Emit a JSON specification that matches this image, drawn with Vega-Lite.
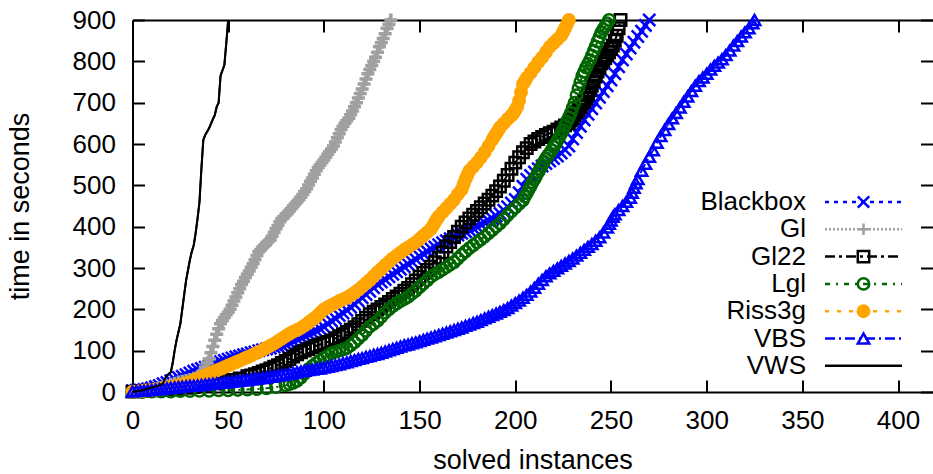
{
"$schema":"https://vega.github.io/schema/vega-lite/v6.json",
"width":800,"height":372,
"autosize":"none",
"padding":{"left":132.5,"top":20,"right":0,"bottom":82},
"background":"white",
"config":{
"view":{"stroke":null},
"font":"Liberation Sans",
"axis":{"grid":false,"domainColor":"black","domainWidth":2,"tickColor":"black","tickWidth":2,"tickSize":-12,"labelFont":"Liberation Sans","labelFontSize":26,"labelColor":"black","titleFont":"Liberation Sans","titleFontSize":27,"titleFontWeight":"normal","titleColor":"black","labelFlush":false,"labelOverlap":false}
},
"data":{"values":[
{"s":"Blackbox","x":0,"y":3},{"s":"Blackbox","x":2,"y":4},{"s":"Blackbox","x":4,"y":5},{"s":"Blackbox","x":6,"y":6},{"s":"Blackbox","x":8,"y":8},{"s":"Blackbox","x":10,"y":10},{"s":"Blackbox","x":12,"y":13},{"s":"Blackbox","x":14,"y":16},{"s":"Blackbox","x":16,"y":20},{"s":"Blackbox","x":18,"y":23},{"s":"Blackbox","x":20,"y":27},{"s":"Blackbox","x":22,"y":31},{"s":"Blackbox","x":24,"y":35},{"s":"Blackbox","x":26,"y":38},{"s":"Blackbox","x":28,"y":42},{"s":"Blackbox","x":30,"y":46},{"s":"Blackbox","x":32,"y":50},{"s":"Blackbox","x":34,"y":54},{"s":"Blackbox","x":36,"y":57},{"s":"Blackbox","x":38,"y":60},{"s":"Blackbox","x":40,"y":63},{"s":"Blackbox","x":42,"y":67},{"s":"Blackbox","x":44,"y":70},{"s":"Blackbox","x":46,"y":73},{"s":"Blackbox","x":48,"y":76},{"s":"Blackbox","x":50,"y":79},{"s":"Blackbox","x":52,"y":82},{"s":"Blackbox","x":54,"y":85},{"s":"Blackbox","x":56,"y":87},{"s":"Blackbox","x":58,"y":90},{"s":"Blackbox","x":60,"y":92},{"s":"Blackbox","x":62,"y":95},{"s":"Blackbox","x":64,"y":97},{"s":"Blackbox","x":66,"y":100},{"s":"Blackbox","x":68,"y":102},{"s":"Blackbox","x":70,"y":104},{"s":"Blackbox","x":72,"y":106},{"s":"Blackbox","x":74,"y":109},{"s":"Blackbox","x":76,"y":111},{"s":"Blackbox","x":78,"y":113},{"s":"Blackbox","x":80,"y":116},{"s":"Blackbox","x":82,"y":119},{"s":"Blackbox","x":84,"y":123},{"s":"Blackbox","x":86,"y":128},{"s":"Blackbox","x":88,"y":132},{"s":"Blackbox","x":90,"y":136},{"s":"Blackbox","x":92,"y":140},{"s":"Blackbox","x":94,"y":144},{"s":"Blackbox","x":96,"y":148},{"s":"Blackbox","x":98,"y":153},{"s":"Blackbox","x":100,"y":158},{"s":"Blackbox","x":102,"y":165},{"s":"Blackbox","x":104,"y":172},{"s":"Blackbox","x":106,"y":178},{"s":"Blackbox","x":108,"y":185},{"s":"Blackbox","x":110,"y":191},{"s":"Blackbox","x":112,"y":198},{"s":"Blackbox","x":114,"y":205},{"s":"Blackbox","x":116,"y":212},{"s":"Blackbox","x":118,"y":220},{"s":"Blackbox","x":120,"y":228},{"s":"Blackbox","x":122,"y":236},{"s":"Blackbox","x":124,"y":244},{"s":"Blackbox","x":126,"y":252},{"s":"Blackbox","x":128,"y":260},{"s":"Blackbox","x":130,"y":266},{"s":"Blackbox","x":132,"y":272},{"s":"Blackbox","x":134,"y":279},{"s":"Blackbox","x":136,"y":285},{"s":"Blackbox","x":138,"y":291},{"s":"Blackbox","x":140,"y":297},{"s":"Blackbox","x":142,"y":303},{"s":"Blackbox","x":144,"y":309},{"s":"Blackbox","x":146,"y":315},{"s":"Blackbox","x":148,"y":321},{"s":"Blackbox","x":150,"y":328},{"s":"Blackbox","x":152,"y":334},{"s":"Blackbox","x":154,"y":340},{"s":"Blackbox","x":156,"y":346},{"s":"Blackbox","x":158,"y":351},{"s":"Blackbox","x":160,"y":356},{"s":"Blackbox","x":162,"y":361},{"s":"Blackbox","x":164,"y":366},{"s":"Blackbox","x":166,"y":371},{"s":"Blackbox","x":168,"y":375},{"s":"Blackbox","x":170,"y":380},{"s":"Blackbox","x":172,"y":384},{"s":"Blackbox","x":174,"y":388},{"s":"Blackbox","x":176,"y":392},{"s":"Blackbox","x":178,"y":396},{"s":"Blackbox","x":180,"y":400},{"s":"Blackbox","x":182,"y":405},{"s":"Blackbox","x":184,"y":410},{"s":"Blackbox","x":186,"y":415},{"s":"Blackbox","x":188,"y":420},{"s":"Blackbox","x":190,"y":426},{"s":"Blackbox","x":192,"y":432},{"s":"Blackbox","x":194,"y":440},{"s":"Blackbox","x":196,"y":448},{"s":"Blackbox","x":198,"y":457},{"s":"Blackbox","x":200,"y":466},{"s":"Blackbox","x":202,"y":482},{"s":"Blackbox","x":204,"y":498},{"s":"Blackbox","x":206,"y":515},{"s":"Blackbox","x":208,"y":524},{"s":"Blackbox","x":210,"y":532},{"s":"Blackbox","x":212,"y":540},{"s":"Blackbox","x":214,"y":547},{"s":"Blackbox","x":216,"y":553},{"s":"Blackbox","x":218,"y":559},{"s":"Blackbox","x":220,"y":565},{"s":"Blackbox","x":222,"y":571},{"s":"Blackbox","x":224,"y":578},{"s":"Blackbox","x":226,"y":586},{"s":"Blackbox","x":228,"y":595},{"s":"Blackbox","x":230,"y":612},{"s":"Blackbox","x":232,"y":628},{"s":"Blackbox","x":234,"y":643},{"s":"Blackbox","x":236,"y":658},{"s":"Blackbox","x":238,"y":672},{"s":"Blackbox","x":240,"y":685},{"s":"Blackbox","x":242,"y":699},{"s":"Blackbox","x":244,"y":713},{"s":"Blackbox","x":246,"y":727},{"s":"Blackbox","x":248,"y":741},{"s":"Blackbox","x":250,"y":755},{"s":"Blackbox","x":252,"y":770},{"s":"Blackbox","x":254,"y":787},{"s":"Blackbox","x":256,"y":803},{"s":"Blackbox","x":258,"y":818},{"s":"Blackbox","x":260,"y":832},{"s":"Blackbox","x":262,"y":846},{"s":"Blackbox","x":264,"y":860},{"s":"Blackbox","x":266,"y":873},{"s":"Blackbox","x":268,"y":887},{"s":"Blackbox","x":270,"y":900},
{"s":"Gl","x":0,"y":2},{"s":"Gl","x":2,"y":2},{"s":"Gl","x":4,"y":3},{"s":"Gl","x":6,"y":4},{"s":"Gl","x":8,"y":5},{"s":"Gl","x":10,"y":6},{"s":"Gl","x":12,"y":8},{"s":"Gl","x":14,"y":10},{"s":"Gl","x":16,"y":12},{"s":"Gl","x":18,"y":15},{"s":"Gl","x":20,"y":18},{"s":"Gl","x":22,"y":21},{"s":"Gl","x":24,"y":24},{"s":"Gl","x":26,"y":26},{"s":"Gl","x":28,"y":28},{"s":"Gl","x":30,"y":30},{"s":"Gl","x":32,"y":33},{"s":"Gl","x":34,"y":37},{"s":"Gl","x":35,"y":40},{"s":"Gl","x":36,"y":45},{"s":"Gl","x":37,"y":50},{"s":"Gl","x":38,"y":60},{"s":"Gl","x":39,"y":70},{"s":"Gl","x":40,"y":80},{"s":"Gl","x":41,"y":95},{"s":"Gl","x":42,"y":110},{"s":"Gl","x":43,"y":125},{"s":"Gl","x":44,"y":140},{"s":"Gl","x":45,"y":153},{"s":"Gl","x":46,"y":165},{"s":"Gl","x":47,"y":173},{"s":"Gl","x":48,"y":180},{"s":"Gl","x":49,"y":187},{"s":"Gl","x":50,"y":193},{"s":"Gl","x":51,"y":200},{"s":"Gl","x":52,"y":210},{"s":"Gl","x":53,"y":220},{"s":"Gl","x":54,"y":230},{"s":"Gl","x":55,"y":240},{"s":"Gl","x":56,"y":250},{"s":"Gl","x":57,"y":260},{"s":"Gl","x":58,"y":268},{"s":"Gl","x":59,"y":277},{"s":"Gl","x":60,"y":285},{"s":"Gl","x":61,"y":293},{"s":"Gl","x":62,"y":302},{"s":"Gl","x":63,"y":310},{"s":"Gl","x":64,"y":320},{"s":"Gl","x":65,"y":330},{"s":"Gl","x":66,"y":340},{"s":"Gl","x":67,"y":345},{"s":"Gl","x":68,"y":350},{"s":"Gl","x":69,"y":355},{"s":"Gl","x":70,"y":360},{"s":"Gl","x":71,"y":364},{"s":"Gl","x":72,"y":368},{"s":"Gl","x":73,"y":377},{"s":"Gl","x":74,"y":386},{"s":"Gl","x":75,"y":395},{"s":"Gl","x":76,"y":403},{"s":"Gl","x":77,"y":412},{"s":"Gl","x":78,"y":420},{"s":"Gl","x":79,"y":424},{"s":"Gl","x":80,"y":428},{"s":"Gl","x":81,"y":432},{"s":"Gl","x":82,"y":438},{"s":"Gl","x":83,"y":444},{"s":"Gl","x":84,"y":450},{"s":"Gl","x":85,"y":455},{"s":"Gl","x":86,"y":460},{"s":"Gl","x":87,"y":465},{"s":"Gl","x":88,"y":471},{"s":"Gl","x":89,"y":478},{"s":"Gl","x":90,"y":485},{"s":"Gl","x":91,"y":492},{"s":"Gl","x":92,"y":501},{"s":"Gl","x":93,"y":510},{"s":"Gl","x":94,"y":518},{"s":"Gl","x":95,"y":527},{"s":"Gl","x":96,"y":535},{"s":"Gl","x":97,"y":543},{"s":"Gl","x":98,"y":549},{"s":"Gl","x":99,"y":555},{"s":"Gl","x":100,"y":561},{"s":"Gl","x":101,"y":568},{"s":"Gl","x":102,"y":575},{"s":"Gl","x":103,"y":582},{"s":"Gl","x":104,"y":588},{"s":"Gl","x":105,"y":595},{"s":"Gl","x":106,"y":605},{"s":"Gl","x":107,"y":615},{"s":"Gl","x":108,"y":625},{"s":"Gl","x":109,"y":635},{"s":"Gl","x":110,"y":643},{"s":"Gl","x":111,"y":650},{"s":"Gl","x":112,"y":656},{"s":"Gl","x":113,"y":662},{"s":"Gl","x":114,"y":671},{"s":"Gl","x":115,"y":680},{"s":"Gl","x":116,"y":690},{"s":"Gl","x":117,"y":700},{"s":"Gl","x":118,"y":711},{"s":"Gl","x":119,"y":722},{"s":"Gl","x":120,"y":733},{"s":"Gl","x":121,"y":745},{"s":"Gl","x":122,"y":757},{"s":"Gl","x":123,"y":770},{"s":"Gl","x":124,"y":780},{"s":"Gl","x":125,"y":790},{"s":"Gl","x":126,"y":800},{"s":"Gl","x":127,"y":810},{"s":"Gl","x":128,"y":822},{"s":"Gl","x":129,"y":835},{"s":"Gl","x":130,"y":845},{"s":"Gl","x":131,"y":855},{"s":"Gl","x":132,"y":867},{"s":"Gl","x":133,"y":880},{"s":"Gl","x":134,"y":890},{"s":"Gl","x":135,"y":900},
{"s":"Gl22","x":0,"y":1},{"s":"Gl22","x":4,"y":2},{"s":"Gl22","x":8,"y":3},{"s":"Gl22","x":12,"y":4},{"s":"Gl22","x":16,"y":5},{"s":"Gl22","x":20,"y":6},{"s":"Gl22","x":24,"y":8},{"s":"Gl22","x":28,"y":10},{"s":"Gl22","x":32,"y":12},{"s":"Gl22","x":36,"y":15},{"s":"Gl22","x":40,"y":18},{"s":"Gl22","x":44,"y":21},{"s":"Gl22","x":48,"y":25},{"s":"Gl22","x":52,"y":29},{"s":"Gl22","x":56,"y":33},{"s":"Gl22","x":60,"y":38},{"s":"Gl22","x":62,"y":40},{"s":"Gl22","x":64,"y":43},{"s":"Gl22","x":66,"y":46},{"s":"Gl22","x":68,"y":50},{"s":"Gl22","x":70,"y":53},{"s":"Gl22","x":72,"y":57},{"s":"Gl22","x":74,"y":61},{"s":"Gl22","x":76,"y":65},{"s":"Gl22","x":78,"y":70},{"s":"Gl22","x":80,"y":75},{"s":"Gl22","x":82,"y":80},{"s":"Gl22","x":84,"y":86},{"s":"Gl22","x":86,"y":91},{"s":"Gl22","x":88,"y":96},{"s":"Gl22","x":90,"y":100},{"s":"Gl22","x":92,"y":104},{"s":"Gl22","x":94,"y":108},{"s":"Gl22","x":96,"y":112},{"s":"Gl22","x":98,"y":115},{"s":"Gl22","x":100,"y":118},{"s":"Gl22","x":102,"y":121},{"s":"Gl22","x":104,"y":125},{"s":"Gl22","x":106,"y":130},{"s":"Gl22","x":108,"y":135},{"s":"Gl22","x":110,"y":140},{"s":"Gl22","x":112,"y":145},{"s":"Gl22","x":114,"y":151},{"s":"Gl22","x":116,"y":157},{"s":"Gl22","x":118,"y":164},{"s":"Gl22","x":120,"y":172},{"s":"Gl22","x":122,"y":180},{"s":"Gl22","x":124,"y":188},{"s":"Gl22","x":126,"y":194},{"s":"Gl22","x":128,"y":200},{"s":"Gl22","x":130,"y":206},{"s":"Gl22","x":132,"y":212},{"s":"Gl22","x":134,"y":218},{"s":"Gl22","x":136,"y":225},{"s":"Gl22","x":138,"y":231},{"s":"Gl22","x":140,"y":238},{"s":"Gl22","x":142,"y":245},{"s":"Gl22","x":144,"y":252},{"s":"Gl22","x":146,"y":261},{"s":"Gl22","x":148,"y":270},{"s":"Gl22","x":150,"y":279},{"s":"Gl22","x":152,"y":288},{"s":"Gl22","x":154,"y":295},{"s":"Gl22","x":156,"y":303},{"s":"Gl22","x":158,"y":314},{"s":"Gl22","x":160,"y":325},{"s":"Gl22","x":162,"y":338},{"s":"Gl22","x":164,"y":352},{"s":"Gl22","x":166,"y":363},{"s":"Gl22","x":168,"y":375},{"s":"Gl22","x":170,"y":388},{"s":"Gl22","x":172,"y":400},{"s":"Gl22","x":174,"y":410},{"s":"Gl22","x":176,"y":420},{"s":"Gl22","x":178,"y":429},{"s":"Gl22","x":180,"y":438},{"s":"Gl22","x":182,"y":447},{"s":"Gl22","x":184,"y":456},{"s":"Gl22","x":186,"y":465},{"s":"Gl22","x":188,"y":475},{"s":"Gl22","x":190,"y":486},{"s":"Gl22","x":192,"y":497},{"s":"Gl22","x":194,"y":511},{"s":"Gl22","x":196,"y":525},{"s":"Gl22","x":198,"y":540},{"s":"Gl22","x":200,"y":555},{"s":"Gl22","x":202,"y":568},{"s":"Gl22","x":204,"y":580},{"s":"Gl22","x":206,"y":590},{"s":"Gl22","x":208,"y":600},{"s":"Gl22","x":210,"y":606},{"s":"Gl22","x":212,"y":612},{"s":"Gl22","x":214,"y":617},{"s":"Gl22","x":216,"y":622},{"s":"Gl22","x":218,"y":626},{"s":"Gl22","x":220,"y":630},{"s":"Gl22","x":222,"y":635},{"s":"Gl22","x":224,"y":640},{"s":"Gl22","x":226,"y":645},{"s":"Gl22","x":228,"y":650},{"s":"Gl22","x":229,"y":657},{"s":"Gl22","x":230,"y":663},{"s":"Gl22","x":231,"y":670},{"s":"Gl22","x":232,"y":677},{"s":"Gl22","x":233,"y":683},{"s":"Gl22","x":234,"y":690},{"s":"Gl22","x":235,"y":697},{"s":"Gl22","x":236,"y":703},{"s":"Gl22","x":237,"y":710},{"s":"Gl22","x":238,"y":720},{"s":"Gl22","x":239,"y":730},{"s":"Gl22","x":240,"y":741},{"s":"Gl22","x":241,"y":752},{"s":"Gl22","x":242,"y":763},{"s":"Gl22","x":243,"y":775},{"s":"Gl22","x":244,"y":785},{"s":"Gl22","x":245,"y":795},{"s":"Gl22","x":246,"y":801},{"s":"Gl22","x":247,"y":808},{"s":"Gl22","x":248,"y":815},{"s":"Gl22","x":249,"y":822},{"s":"Gl22","x":250,"y":830},{"s":"Gl22","x":251,"y":838},{"s":"Gl22","x":252,"y":850},{"s":"Gl22","x":253,"y":862},{"s":"Gl22","x":254,"y":880},{"s":"Gl22","x":255,"y":900},
{"s":"Lgl","x":0,"y":0},{"s":"Lgl","x":5,"y":0},{"s":"Lgl","x":10,"y":1},{"s":"Lgl","x":15,"y":1},{"s":"Lgl","x":20,"y":1},{"s":"Lgl","x":25,"y":2},{"s":"Lgl","x":30,"y":2},{"s":"Lgl","x":35,"y":3},{"s":"Lgl","x":40,"y":3},{"s":"Lgl","x":45,"y":4},{"s":"Lgl","x":50,"y":4},{"s":"Lgl","x":55,"y":5},{"s":"Lgl","x":60,"y":6},{"s":"Lgl","x":65,"y":7},{"s":"Lgl","x":70,"y":9},{"s":"Lgl","x":75,"y":12},{"s":"Lgl","x":80,"y":16},{"s":"Lgl","x":82,"y":19},{"s":"Lgl","x":84,"y":22},{"s":"Lgl","x":86,"y":27},{"s":"Lgl","x":88,"y":35},{"s":"Lgl","x":90,"y":45},{"s":"Lgl","x":92,"y":55},{"s":"Lgl","x":94,"y":63},{"s":"Lgl","x":96,"y":70},{"s":"Lgl","x":98,"y":76},{"s":"Lgl","x":100,"y":82},{"s":"Lgl","x":102,"y":88},{"s":"Lgl","x":104,"y":94},{"s":"Lgl","x":106,"y":97},{"s":"Lgl","x":108,"y":100},{"s":"Lgl","x":110,"y":103},{"s":"Lgl","x":112,"y":106},{"s":"Lgl","x":114,"y":113},{"s":"Lgl","x":116,"y":120},{"s":"Lgl","x":118,"y":129},{"s":"Lgl","x":120,"y":138},{"s":"Lgl","x":122,"y":148},{"s":"Lgl","x":124,"y":158},{"s":"Lgl","x":126,"y":165},{"s":"Lgl","x":128,"y":172},{"s":"Lgl","x":130,"y":182},{"s":"Lgl","x":132,"y":192},{"s":"Lgl","x":134,"y":200},{"s":"Lgl","x":136,"y":208},{"s":"Lgl","x":138,"y":214},{"s":"Lgl","x":140,"y":220},{"s":"Lgl","x":142,"y":225},{"s":"Lgl","x":144,"y":230},{"s":"Lgl","x":146,"y":238},{"s":"Lgl","x":148,"y":245},{"s":"Lgl","x":150,"y":254},{"s":"Lgl","x":152,"y":262},{"s":"Lgl","x":154,"y":270},{"s":"Lgl","x":156,"y":279},{"s":"Lgl","x":158,"y":285},{"s":"Lgl","x":160,"y":290},{"s":"Lgl","x":162,"y":296},{"s":"Lgl","x":164,"y":302},{"s":"Lgl","x":166,"y":308},{"s":"Lgl","x":168,"y":314},{"s":"Lgl","x":170,"y":323},{"s":"Lgl","x":172,"y":332},{"s":"Lgl","x":174,"y":340},{"s":"Lgl","x":176,"y":348},{"s":"Lgl","x":178,"y":355},{"s":"Lgl","x":180,"y":362},{"s":"Lgl","x":182,"y":369},{"s":"Lgl","x":184,"y":376},{"s":"Lgl","x":186,"y":384},{"s":"Lgl","x":188,"y":392},{"s":"Lgl","x":190,"y":400},{"s":"Lgl","x":192,"y":408},{"s":"Lgl","x":194,"y":418},{"s":"Lgl","x":196,"y":428},{"s":"Lgl","x":198,"y":437},{"s":"Lgl","x":200,"y":446},{"s":"Lgl","x":202,"y":455},{"s":"Lgl","x":204,"y":464},{"s":"Lgl","x":205,"y":473},{"s":"Lgl","x":206,"y":481},{"s":"Lgl","x":207,"y":490},{"s":"Lgl","x":208,"y":498},{"s":"Lgl","x":209,"y":507},{"s":"Lgl","x":210,"y":515},{"s":"Lgl","x":211,"y":523},{"s":"Lgl","x":212,"y":532},{"s":"Lgl","x":213,"y":540},{"s":"Lgl","x":214,"y":548},{"s":"Lgl","x":215,"y":557},{"s":"Lgl","x":216,"y":565},{"s":"Lgl","x":217,"y":572},{"s":"Lgl","x":218,"y":578},{"s":"Lgl","x":219,"y":585},{"s":"Lgl","x":220,"y":593},{"s":"Lgl","x":221,"y":600},{"s":"Lgl","x":222,"y":608},{"s":"Lgl","x":223,"y":617},{"s":"Lgl","x":224,"y":625},{"s":"Lgl","x":225,"y":634},{"s":"Lgl","x":226,"y":645},{"s":"Lgl","x":227,"y":655},{"s":"Lgl","x":228,"y":665},{"s":"Lgl","x":229,"y":675},{"s":"Lgl","x":230,"y":688},{"s":"Lgl","x":231,"y":700},{"s":"Lgl","x":232,"y":718},{"s":"Lgl","x":233,"y":735},{"s":"Lgl","x":234,"y":750},{"s":"Lgl","x":235,"y":765},{"s":"Lgl","x":236,"y":775},{"s":"Lgl","x":237,"y":785},{"s":"Lgl","x":238,"y":794},{"s":"Lgl","x":239,"y":803},{"s":"Lgl","x":240,"y":814},{"s":"Lgl","x":241,"y":825},{"s":"Lgl","x":242,"y":836},{"s":"Lgl","x":243,"y":848},{"s":"Lgl","x":244,"y":859},{"s":"Lgl","x":245,"y":870},{"s":"Lgl","x":246,"y":878},{"s":"Lgl","x":247,"y":885},{"s":"Lgl","x":248,"y":892},{"s":"Lgl","x":249,"y":900},
{"s":"Riss3g","x":0,"y":1},{"s":"Riss3g","x":2,"y":1},{"s":"Riss3g","x":4,"y":2},{"s":"Riss3g","x":6,"y":3},{"s":"Riss3g","x":8,"y":4},{"s":"Riss3g","x":10,"y":5},{"s":"Riss3g","x":12,"y":6},{"s":"Riss3g","x":14,"y":7},{"s":"Riss3g","x":16,"y":9},{"s":"Riss3g","x":18,"y":10},{"s":"Riss3g","x":20,"y":12},{"s":"Riss3g","x":22,"y":14},{"s":"Riss3g","x":24,"y":16},{"s":"Riss3g","x":26,"y":18},{"s":"Riss3g","x":28,"y":21},{"s":"Riss3g","x":30,"y":24},{"s":"Riss3g","x":32,"y":28},{"s":"Riss3g","x":34,"y":32},{"s":"Riss3g","x":36,"y":36},{"s":"Riss3g","x":38,"y":40},{"s":"Riss3g","x":40,"y":44},{"s":"Riss3g","x":42,"y":48},{"s":"Riss3g","x":44,"y":52},{"s":"Riss3g","x":46,"y":56},{"s":"Riss3g","x":48,"y":60},{"s":"Riss3g","x":50,"y":64},{"s":"Riss3g","x":52,"y":68},{"s":"Riss3g","x":54,"y":72},{"s":"Riss3g","x":56,"y":76},{"s":"Riss3g","x":58,"y":80},{"s":"Riss3g","x":60,"y":84},{"s":"Riss3g","x":62,"y":88},{"s":"Riss3g","x":64,"y":93},{"s":"Riss3g","x":66,"y":97},{"s":"Riss3g","x":68,"y":102},{"s":"Riss3g","x":70,"y":107},{"s":"Riss3g","x":72,"y":112},{"s":"Riss3g","x":74,"y":117},{"s":"Riss3g","x":76,"y":123},{"s":"Riss3g","x":78,"y":129},{"s":"Riss3g","x":80,"y":135},{"s":"Riss3g","x":82,"y":141},{"s":"Riss3g","x":84,"y":146},{"s":"Riss3g","x":86,"y":150},{"s":"Riss3g","x":88,"y":155},{"s":"Riss3g","x":90,"y":161},{"s":"Riss3g","x":92,"y":168},{"s":"Riss3g","x":94,"y":175},{"s":"Riss3g","x":96,"y":182},{"s":"Riss3g","x":98,"y":191},{"s":"Riss3g","x":100,"y":200},{"s":"Riss3g","x":102,"y":205},{"s":"Riss3g","x":104,"y":210},{"s":"Riss3g","x":106,"y":215},{"s":"Riss3g","x":108,"y":220},{"s":"Riss3g","x":110,"y":224},{"s":"Riss3g","x":112,"y":228},{"s":"Riss3g","x":114,"y":234},{"s":"Riss3g","x":116,"y":240},{"s":"Riss3g","x":118,"y":247},{"s":"Riss3g","x":120,"y":255},{"s":"Riss3g","x":122,"y":263},{"s":"Riss3g","x":124,"y":271},{"s":"Riss3g","x":126,"y":280},{"s":"Riss3g","x":128,"y":290},{"s":"Riss3g","x":130,"y":298},{"s":"Riss3g","x":132,"y":307},{"s":"Riss3g","x":134,"y":315},{"s":"Riss3g","x":136,"y":323},{"s":"Riss3g","x":138,"y":330},{"s":"Riss3g","x":140,"y":337},{"s":"Riss3g","x":142,"y":344},{"s":"Riss3g","x":144,"y":350},{"s":"Riss3g","x":146,"y":356},{"s":"Riss3g","x":148,"y":362},{"s":"Riss3g","x":150,"y":370},{"s":"Riss3g","x":152,"y":378},{"s":"Riss3g","x":154,"y":386},{"s":"Riss3g","x":156,"y":395},{"s":"Riss3g","x":157,"y":402},{"s":"Riss3g","x":158,"y":410},{"s":"Riss3g","x":159,"y":418},{"s":"Riss3g","x":160,"y":425},{"s":"Riss3g","x":162,"y":435},{"s":"Riss3g","x":164,"y":445},{"s":"Riss3g","x":166,"y":455},{"s":"Riss3g","x":168,"y":465},{"s":"Riss3g","x":170,"y":478},{"s":"Riss3g","x":172,"y":490},{"s":"Riss3g","x":173,"y":502},{"s":"Riss3g","x":174,"y":515},{"s":"Riss3g","x":175,"y":525},{"s":"Riss3g","x":176,"y":535},{"s":"Riss3g","x":178,"y":545},{"s":"Riss3g","x":180,"y":555},{"s":"Riss3g","x":182,"y":567},{"s":"Riss3g","x":184,"y":580},{"s":"Riss3g","x":186,"y":595},{"s":"Riss3g","x":188,"y":610},{"s":"Riss3g","x":189,"y":618},{"s":"Riss3g","x":190,"y":625},{"s":"Riss3g","x":191,"y":632},{"s":"Riss3g","x":192,"y":640},{"s":"Riss3g","x":194,"y":650},{"s":"Riss3g","x":196,"y":660},{"s":"Riss3g","x":198,"y":669},{"s":"Riss3g","x":199,"y":674},{"s":"Riss3g","x":200,"y":682},{"s":"Riss3g","x":201,"y":690},{"s":"Riss3g","x":202,"y":705},{"s":"Riss3g","x":203,"y":725},{"s":"Riss3g","x":204,"y":745},{"s":"Riss3g","x":205,"y":752},{"s":"Riss3g","x":206,"y":760},{"s":"Riss3g","x":208,"y":772},{"s":"Riss3g","x":210,"y":785},{"s":"Riss3g","x":212,"y":798},{"s":"Riss3g","x":214,"y":809},{"s":"Riss3g","x":216,"y":822},{"s":"Riss3g","x":218,"y":835},{"s":"Riss3g","x":220,"y":844},{"s":"Riss3g","x":222,"y":853},{"s":"Riss3g","x":224,"y":862},{"s":"Riss3g","x":225,"y":871},{"s":"Riss3g","x":226,"y":880},{"s":"Riss3g","x":227,"y":890},{"s":"Riss3g","x":228,"y":900},
{"s":"VBS","x":0,"y":1},{"s":"VBS","x":2,"y":2},{"s":"VBS","x":4,"y":3},{"s":"VBS","x":6,"y":3},{"s":"VBS","x":8,"y":4},{"s":"VBS","x":10,"y":5},{"s":"VBS","x":12,"y":6},{"s":"VBS","x":14,"y":7},{"s":"VBS","x":16,"y":8},{"s":"VBS","x":18,"y":9},{"s":"VBS","x":20,"y":10},{"s":"VBS","x":22,"y":11},{"s":"VBS","x":24,"y":12},{"s":"VBS","x":26,"y":13},{"s":"VBS","x":28,"y":14},{"s":"VBS","x":30,"y":15},{"s":"VBS","x":32,"y":15},{"s":"VBS","x":34,"y":16},{"s":"VBS","x":36,"y":17},{"s":"VBS","x":38,"y":18},{"s":"VBS","x":40,"y":19},{"s":"VBS","x":42,"y":20},{"s":"VBS","x":44,"y":21},{"s":"VBS","x":46,"y":22},{"s":"VBS","x":48,"y":23},{"s":"VBS","x":50,"y":24},{"s":"VBS","x":52,"y":25},{"s":"VBS","x":54,"y":26},{"s":"VBS","x":56,"y":27},{"s":"VBS","x":58,"y":28},{"s":"VBS","x":60,"y":29},{"s":"VBS","x":62,"y":30},{"s":"VBS","x":64,"y":32},{"s":"VBS","x":66,"y":33},{"s":"VBS","x":68,"y":34},{"s":"VBS","x":70,"y":35},{"s":"VBS","x":72,"y":37},{"s":"VBS","x":74,"y":38},{"s":"VBS","x":76,"y":40},{"s":"VBS","x":78,"y":41},{"s":"VBS","x":80,"y":43},{"s":"VBS","x":82,"y":44},{"s":"VBS","x":84,"y":46},{"s":"VBS","x":86,"y":48},{"s":"VBS","x":88,"y":50},{"s":"VBS","x":90,"y":51},{"s":"VBS","x":92,"y":53},{"s":"VBS","x":94,"y":54},{"s":"VBS","x":96,"y":56},{"s":"VBS","x":98,"y":57},{"s":"VBS","x":100,"y":59},{"s":"VBS","x":102,"y":61},{"s":"VBS","x":104,"y":63},{"s":"VBS","x":106,"y":65},{"s":"VBS","x":108,"y":67},{"s":"VBS","x":110,"y":70},{"s":"VBS","x":112,"y":72},{"s":"VBS","x":114,"y":75},{"s":"VBS","x":116,"y":77},{"s":"VBS","x":118,"y":80},{"s":"VBS","x":120,"y":82},{"s":"VBS","x":122,"y":85},{"s":"VBS","x":124,"y":87},{"s":"VBS","x":126,"y":90},{"s":"VBS","x":128,"y":92},{"s":"VBS","x":130,"y":95},{"s":"VBS","x":132,"y":98},{"s":"VBS","x":134,"y":101},{"s":"VBS","x":136,"y":104},{"s":"VBS","x":138,"y":107},{"s":"VBS","x":140,"y":110},{"s":"VBS","x":142,"y":113},{"s":"VBS","x":144,"y":115},{"s":"VBS","x":146,"y":118},{"s":"VBS","x":148,"y":120},{"s":"VBS","x":150,"y":123},{"s":"VBS","x":152,"y":126},{"s":"VBS","x":154,"y":129},{"s":"VBS","x":156,"y":132},{"s":"VBS","x":158,"y":135},{"s":"VBS","x":160,"y":138},{"s":"VBS","x":162,"y":141},{"s":"VBS","x":164,"y":144},{"s":"VBS","x":166,"y":147},{"s":"VBS","x":168,"y":150},{"s":"VBS","x":170,"y":153},{"s":"VBS","x":172,"y":156},{"s":"VBS","x":174,"y":160},{"s":"VBS","x":176,"y":163},{"s":"VBS","x":178,"y":167},{"s":"VBS","x":180,"y":170},{"s":"VBS","x":182,"y":174},{"s":"VBS","x":184,"y":178},{"s":"VBS","x":186,"y":182},{"s":"VBS","x":188,"y":186},{"s":"VBS","x":190,"y":190},{"s":"VBS","x":192,"y":194},{"s":"VBS","x":194,"y":198},{"s":"VBS","x":196,"y":203},{"s":"VBS","x":198,"y":209},{"s":"VBS","x":200,"y":215},{"s":"VBS","x":202,"y":221},{"s":"VBS","x":204,"y":228},{"s":"VBS","x":206,"y":235},{"s":"VBS","x":208,"y":243},{"s":"VBS","x":210,"y":252},{"s":"VBS","x":212,"y":262},{"s":"VBS","x":214,"y":271},{"s":"VBS","x":216,"y":280},{"s":"VBS","x":218,"y":287},{"s":"VBS","x":220,"y":293},{"s":"VBS","x":222,"y":299},{"s":"VBS","x":224,"y":305},{"s":"VBS","x":226,"y":311},{"s":"VBS","x":228,"y":317},{"s":"VBS","x":230,"y":323},{"s":"VBS","x":232,"y":330},{"s":"VBS","x":234,"y":337},{"s":"VBS","x":236,"y":344},{"s":"VBS","x":238,"y":351},{"s":"VBS","x":240,"y":358},{"s":"VBS","x":242,"y":366},{"s":"VBS","x":244,"y":374},{"s":"VBS","x":246,"y":386},{"s":"VBS","x":248,"y":398},{"s":"VBS","x":249,"y":407},{"s":"VBS","x":250,"y":415},{"s":"VBS","x":251,"y":424},{"s":"VBS","x":252,"y":430},{"s":"VBS","x":254,"y":440},{"s":"VBS","x":256,"y":450},{"s":"VBS","x":258,"y":460},{"s":"VBS","x":260,"y":470},{"s":"VBS","x":261,"y":482},{"s":"VBS","x":262,"y":494},{"s":"VBS","x":263,"y":505},{"s":"VBS","x":264,"y":515},{"s":"VBS","x":266,"y":535},{"s":"VBS","x":268,"y":552},{"s":"VBS","x":270,"y":569},{"s":"VBS","x":272,"y":585},{"s":"VBS","x":274,"y":603},{"s":"VBS","x":276,"y":619},{"s":"VBS","x":278,"y":634},{"s":"VBS","x":280,"y":648},{"s":"VBS","x":282,"y":662},{"s":"VBS","x":284,"y":675},{"s":"VBS","x":286,"y":688},{"s":"VBS","x":288,"y":702},{"s":"VBS","x":290,"y":715},{"s":"VBS","x":292,"y":728},{"s":"VBS","x":294,"y":741},{"s":"VBS","x":296,"y":752},{"s":"VBS","x":298,"y":761},{"s":"VBS","x":300,"y":770},{"s":"VBS","x":302,"y":780},{"s":"VBS","x":304,"y":789},{"s":"VBS","x":306,"y":797},{"s":"VBS","x":308,"y":805},{"s":"VBS","x":310,"y":815},{"s":"VBS","x":312,"y":826},{"s":"VBS","x":314,"y":838},{"s":"VBS","x":316,"y":849},{"s":"VBS","x":318,"y":860},{"s":"VBS","x":320,"y":870},{"s":"VBS","x":322,"y":880},{"s":"VBS","x":324,"y":892},{"s":"VBS","x":325,"y":900},
{"s":"VWS","x":0,"y":0},{"s":"VWS","x":4,"y":3},{"s":"VWS","x":8,"y":8},{"s":"VWS","x":12,"y":13},{"s":"VWS","x":14,"y":16},{"s":"VWS","x":16,"y":21},{"s":"VWS","x":17,"y":32},{"s":"VWS","x":18,"y":40},{"s":"VWS","x":20,"y":48},{"s":"VWS","x":21,"y":70},{"s":"VWS","x":22,"y":100},{"s":"VWS","x":23,"y":125},{"s":"VWS","x":24,"y":145},{"s":"VWS","x":25,"y":165},{"s":"VWS","x":26,"y":200},{"s":"VWS","x":27,"y":235},{"s":"VWS","x":28,"y":270},{"s":"VWS","x":29,"y":295},{"s":"VWS","x":30,"y":320},{"s":"VWS","x":31,"y":340},{"s":"VWS","x":32,"y":355},{"s":"VWS","x":33,"y":385},{"s":"VWS","x":34,"y":420},{"s":"VWS","x":35,"y":460},{"s":"VWS","x":36,"y":540},{"s":"VWS","x":37,"y":610},{"s":"VWS","x":38,"y":622},{"s":"VWS","x":40,"y":638},{"s":"VWS","x":42,"y":660},{"s":"VWS","x":43,"y":670},{"s":"VWS","x":44,"y":690},{"s":"VWS","x":45,"y":700},{"s":"VWS","x":46,"y":765},{"s":"VWS","x":48,"y":791},{"s":"VWS","x":49,"y":844},{"s":"VWS","x":50,"y":900}
]},
"layer":[
{"mark":{"type":"line","strokeWidth":2},
"encoding":{
"x":{"field":"x","type":"quantitative","scale":{"domain":[0,418],"nice":false,"zero":false},"axis":{"orient":"bottom","values":[0,50,100,150,200,250,300,350,400],"title":"solved instances","labelPadding":27.6,"titlePadding":14}},
"y":{"field":"y","type":"quantitative","scale":{"domain":[0,900],"nice":false},"axis":{"orient":"left","values":[0,100,200,300,400,500,600,700,800,900],"title":"time in seconds","labelPadding":29,"titlePadding":38}},
"color":{"field":"s","type":"nominal","scale":{"domain":["Blackbox","Gl","Gl22","Lgl","Riss3g","VBS","VWS"],"range":["#0000ff","#a0a0a0","#000000","#006400","#ffa500","#0000ff","#000000"]},
"legend":{"title":null,"orient":"none","legendX":718,"legendY":169,"symbolType":"M-3.5,0L3.5,0","symbolSize":484,"symbolStrokeWidth":2.5,"labelAlign":"right","labelOffset":-70.5,"labelFont":"Liberation Sans","labelFontSize":26,"labelColor":"black","labelLimit":0,"rowPadding":1.3,"padding":0}},
"strokeDash":{"field":"s","type":"nominal","scale":{"domain":["Blackbox","Gl","Gl22","Lgl","Riss3g","VBS","VWS"],"range":[[4,5],[2,2],[10,4,3,4],[5,6,2,6],[4,8],[10,4,2,4],[1,0]]}}
}},
{"transform":[{"filter":"datum.s !== 'VWS'"}],
"mark":{"type":"point","filled":false,"opacity":1},
"encoding":{
"x":{"field":"x","type":"quantitative","axis":{"orient":"top","labels":false,"title":null,"values":[0,50,100,150,200,250,300,350,400]}},
"y":{"field":"y","type":"quantitative","axis":{"orient":"right","labels":false,"title":null,"domain":false,"values":[0,100,200,300,400,500,600,700,800,900]}},
"stroke":{"field":"s","type":"nominal","scale":{"domain":["Blackbox","Gl","Gl22","Lgl","Riss3g","VBS","VWS","none"],"range":["#0000ff","#a0a0a0","#000000","#006400","#ffa500","#0000ff","#000000","#000000"]}},
"fill":{"field":"s","type":"nominal","scale":{"domain":["Blackbox","Gl","Gl22","Lgl","Riss3g","VBS","VWS","none"],"range":["transparent","transparent","transparent","transparent","#ffa500","transparent","transparent","transparent"]}},
"shape":{"field":"s","type":"nominal","scale":{"domain":["Blackbox","Gl","Gl22","Lgl","Riss3g","VBS","VWS","none"],"range":["M-1,-1L1,1M-1,1L1,-1","M-1,0L1,0M0,-1L0,1","square","circle","circle","triangle-up","circle","circle"]},
"legend":{"title":null,"orient":"none","legendX":718,"legendY":169,"values":["Blackbox","Gl","Gl22","Lgl","Riss3g","VBS"],"symbolSize":130,"symbolStrokeWidth":2.5,"labelExpr":"' '","labelAlign":"right","labelOffset":-70.5,"labelFontSize":26,"labelOpacity":0,"rowPadding":1.3,"padding":0}},
"strokeWidth":{"condition":{"test":"datum.s === 'Gl'","value":3.5},"value":2.5},
"size":{"condition":[{"test":"datum.s === 'Gl'","value":170},{"test":"datum.s === 'Blackbox'","value":150}],"value":130}
}},
{"transform":[{"filter":"datum.s === 'VWS'"}],
"mark":{"type":"line","strokeWidth":2},
"encoding":{
"x":{"field":"x","type":"quantitative","axis":null},
"y":{"field":"y","type":"quantitative","axis":null},
"color":{"field":"s","type":"nominal"}
}}
],
"resolve":{"axis":{"x":"independent","y":"independent"}}
}
